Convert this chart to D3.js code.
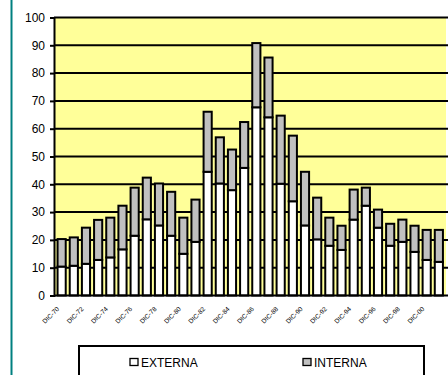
<!DOCTYPE html>
<html>
<head>
<meta charset="utf-8">
<script src="https://cdn.jsdelivr.net/npm/d3@7"></script>
<style>
  html, body { margin: 0; padding: 0; background: #fff; }
  svg { display: block; font-family: 'Liberation Sans', Arial, sans-serif; }
</style>
</head>
<body>
<div id="chart"></div>
<script>
// years 1970..2001, one bar each; labels every other year
const years = ['70','71','72','73','74','75','76','77','78','79','80','81','82','83','84','85',
               '86','87','88','89','90','91','92','93','94','95','96','97','98','99','00','01'];
const externa = [10.4, 10.7, 11.4, 12.8, 13.7, 16.6, 21.5, 27.4, 25.2, 21.5, 15.0, 19.3, 44.5, 40.3, 37.9, 45.9,
                 67.7, 64.1, 40.2, 33.9, 25.2, 20.2, 17.9, 16.4, 27.3, 32.3, 24.4, 17.9, 19.3, 15.7, 12.8, 12.1];
const totals  = [20.3, 20.9, 24.4, 27.2, 28.0, 32.3, 38.8, 42.4, 40.3, 37.3, 28.0, 34.5, 66.1, 56.9, 52.5, 62.4,
                 90.8, 85.6, 64.7, 57.5, 44.5, 35.2, 28.0, 25.1, 38.1, 38.8, 30.9, 25.8, 27.3, 25.1, 23.6, 23.6];
const interna = totals.map((t, i) => +(t - externa[i]).toFixed(1));
const yTicks = [0, 10, 20, 30, 40, 50, 60, 70, 80, 90, 100];
const seriesNames = ['EXTERNA', 'INTERNA'];
const seriesColors = ['#ffffff', '#c0c0c0'];

const W = 448, H = 375;
const svg = d3.select('#chart').append('svg').attr('width', W).attr('height', H);

// teal rule on the left
svg.append('line').attr('x1', 11.5).attr('x2', 11.5).attr('y1', 0).attr('y2', H)
    .attr('stroke', '#008080').attr('stroke-width', 2);

const plot = { left: 54, right: 446, top: 17.5, bottom: 295.5 };

const x = d3.scaleBand().domain(years).range([55.5, 445]).paddingInner(0.33).paddingOuter(0.17);
const y = d3.scaleLinear().domain([0, 100]).range([plot.bottom, plot.top]);

// plot background
svg.append('rect')
    .attr('x', plot.left).attr('y', plot.top)
    .attr('width', plot.right - plot.left).attr('height', plot.bottom - plot.top)
    .attr('fill', '#ffff99');

// gridlines
svg.append('g').selectAll('line')
    .data(yTicks.filter(d => d > 0))
    .join('line')
    .attr('x1', plot.left).attr('x2', W)
    .attr('y1', d => y(d)).attr('y2', d => y(d))
    .attr('stroke', '#000').attr('stroke-width', 2);

// y axis
const yAxis = svg.append('g')
    .attr('transform', `translate(${plot.left},0)`)
    .call(d3.axisLeft(y).tickValues(yTicks).tickSize(4).tickPadding(5));
yAxis.select('.domain').attr('stroke', '#000').attr('stroke-width', 2);
yAxis.selectAll('line').attr('stroke', '#000').attr('stroke-width', 2);
yAxis.selectAll('text')
    .attr('font-size', 12).attr('fill', '#000')
    .attr('font-family', "'Liberation Sans', Arial, sans-serif");

// stacked bars
const rows = years.map((yr, i) => ({ year: yr, EXTERNA: externa[i], INTERNA: interna[i] }));
const stacked = d3.stack().keys(seriesNames)(rows);

svg.append('g').selectAll('g')
    .data(stacked)
    .join('g')
    .attr('fill', (d, i) => seriesColors[i])
    .selectAll('rect')
    .data(d => d)
    .join('rect')
    .attr('x', d => x(d.data.year))
    .attr('width', x.bandwidth())
    .attr('y', d => y(d[1]))
    .attr('height', d => y(d[0]) - y(d[1]))
    .attr('stroke', '#000')
    .attr('stroke-width', 2);

// x axis line
svg.append('line')
    .attr('x1', plot.left).attr('x2', W)
    .attr('y1', plot.bottom).attr('y2', plot.bottom)
    .attr('stroke', '#000').attr('stroke-width', 2);

// x labels, every other year, rotated
svg.append('g').selectAll('text')
    .data(years.filter((d, i) => i % 2 === 0))
    .join('text')
    .attr('transform', d => `translate(${x(d) + x.bandwidth() / 2 - 2},${plot.bottom + 14}) rotate(-45)`)
    .attr('text-anchor', 'end')
    .attr('font-size', 6.5)
    .attr('fill', '#000')
    .text(d => 'DIC-' + d);

// legend
const leg = svg.append('g');
leg.append('rect')
    .attr('x', 79).attr('y', 346).attr('width', 345).attr('height', 40)
    .attr('fill', '#fff').attr('stroke', '#000').attr('stroke-width', 2);
const legX = [130, 303];
seriesNames.forEach((name, i) => {
    leg.append('rect')
        .attr('x', legX[i]).attr('y', 358.5).attr('width', 8).attr('height', 7)
        .attr('fill', seriesColors[i]).attr('stroke', '#000').attr('stroke-width', 1.3);
    leg.append('text')
        .attr('x', legX[i] + 11).attr('y', 366.5)
        .attr('font-size', 12).attr('fill', '#000')
        .text(name);
});
</script>
</body>
</html>
